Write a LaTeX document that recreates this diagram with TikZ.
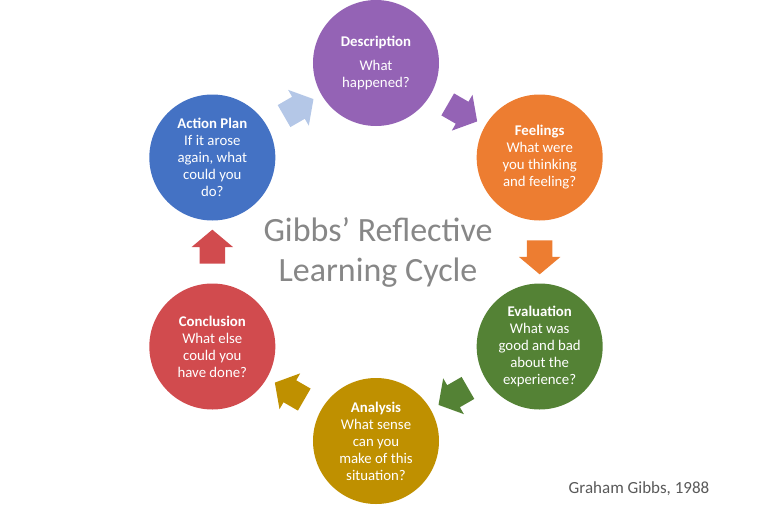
\documentclass[tikz,border=0pt]{standalone}
\usepackage{fontspec}
\setmainfont{Carlito}
\usetikzlibrary{shapes.arrows}

\definecolor{descc}{RGB}{148,99,181}
\definecolor{feelc}{RGB}{237,125,49}
\definecolor{evalc}{RGB}{84,130,53}
\definecolor{analc}{RGB}{191,144,0}
\definecolor{conclc}{RGB}{209,75,78}
\definecolor{planc}{RGB}{68,114,196}
\definecolor{backc}{RGB}{180,199,231}
\definecolor{titlec}{RGB}{135,135,135}
\definecolor{creditc}{RGB}{89,89,89}

\begin{document}
\begin{tikzpicture}[x=1pt,y=1pt,
  stage/.style={circle, draw=none, fill=#1, minimum size=126pt, inner sep=0pt,
    text=white, align=center, font=\fontsize{14.8}{17}\selectfont},
  flow/.style={single arrow, draw=none, fill=#1, minimum height=34pt,
    inner xsep=0pt, inner ysep=12.5pt, single arrow head extend=8pt,
    single arrow tip angle=100}]
  \useasboundingbox (-376,-257) rectangle (381,252);

  \node[stage=descc] (descr) at (90:189) {\textbf{Description}\\[7pt]What\\happened?};
  \node[stage=feelc] (feel) at (30:189) {\textbf{Feelings}\\What were\\you thinking\\and feeling?};
  \node[stage=evalc] (eval) at (-30:189) {\textbf{Evaluation}\\What was\\good and bad\\about the\\experience?};
  \node[stage=analc] (anal) at (-90:189) {\textbf{Analysis}\\What sense\\can you\\make of this\\situation?};
  \node[stage=conclc] (concl) at (-150:189) {\textbf{Conclusion}\\What else\\could you\\have done?};
  \node[stage=planc] (plan) at (150:189) {\textbf{Action Plan}\\If it arose\\again, what\\could you\\do?};

  \foreach \a/\b/\c in {descr/feel/descc, feel/eval/feelc, eval/anal/evalc,
    anal/concl/analc, concl/plan/conclc, plan/descr/backc} {
    \path[allow upside down] (\a) -- node[flow=\c, sloped] {} (\b);
  }

  \node[text=titlec, align=center, font=\fontsize{34}{40}\selectfont] (title) at (2,0)
    {Gibbs’ Reflective\\Learning Cycle};
  \node[text=creditc, font=\fontsize{17}{20}\selectfont] (credit) at (263,-237)
    {Graham Gibbs, 1988};
\end{tikzpicture}
\end{document}
